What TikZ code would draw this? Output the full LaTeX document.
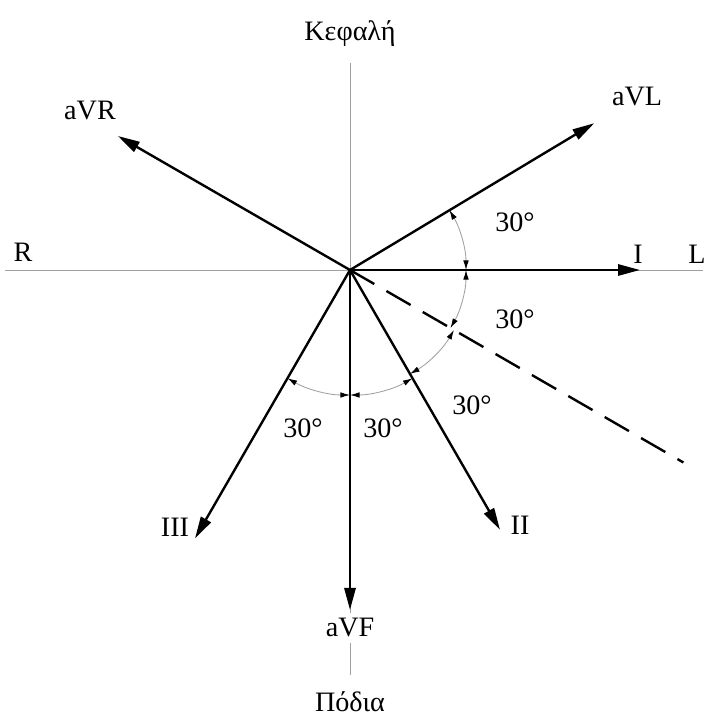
\documentclass[tikz,border=0pt]{standalone}
\usepackage{fontspec}
\setmainfont{Liberation Serif}
\usetikzlibrary{arrows.meta}
\definecolor{axisGray}{HTML}{A0A0A0}
\tikzset{
  axisline/.style={draw=axisGray, line width=0.6pt},
  vecarr/.style={-{Triangle[length=5.5mm, width=2.8mm]}, line width=1.7pt},
  dashline/.style={line width=1.7pt, dash pattern=on 7mm off 3.5mm},
  anglearc/.style={{Latex[length=2.4mm, width=1.4mm, color=black]}-{Latex[length=2.4mm, width=1.4mm, color=black]}, draw=axisGray, line width=0.6pt},
  lbl/.style={font=\fontsize{20}{23}\selectfont, inner sep=1pt},
}
\begin{document}
\begin{tikzpicture}[x=0.025cm, y=0.025cm]
\useasboundingbox (-350,-451) rectangle (361,270);
% axes
\coordinate (O) at (0,0);
\coordinate (axR) at (-345,0);
\coordinate (axL) at (353,0);
\coordinate (axT) at (0,207);
\coordinate (axB) at (0,-405);
\draw[axisline] (axR) -- (axL);
\draw[axisline] (axT) -- (axB);
% leads
\coordinate (tI) at (0:290);
\coordinate (tII) at (-60:300);
\coordinate (tIII) at (-120:310);
\coordinate (tVR) at (150:268);
\coordinate (tVL) at (31:285);
\coordinate (tVF) at (-90:340);
\coordinate (tDash) at (-30:385);
\draw[dashline] (O) -- (tDash);
\draw[vecarr] (O) -- (tI);
\draw[vecarr] (O) -- (tII);
\draw[vecarr] (O) -- (tIII);
\draw[vecarr] (O) -- (tVR);
\draw[vecarr] (O) -- (tVL);
\draw[vecarr] (O) -- (tVF);
% angles
\draw[anglearc] (0:116) arc[start angle=0, end angle=31, radius=116];
\draw[anglearc] (0:116) arc[start angle=0, end angle=-30, radius=116];
\draw[anglearc] (-30:120) arc[start angle=-30, end angle=-60, radius=120];
\draw[anglearc] (-90:125) arc[start angle=-90, end angle=-60, radius=125];
\draw[anglearc] (-90:125) arc[start angle=-90, end angle=-120, radius=125];
% labels
\node[lbl] (head) at (0,236) {Κεφαλή};
\node[lbl] (feet) at (0,-432) {Πόδια};
\node[lbl] (lR) at (-327,18) {R};
\node[lbl] (lL) at (347,16) {L};
\node[lbl] (lI) at (288,16) {I};
\node[lbl] (lII) at (170,-255) {II};
\node[lbl] (lIII) at (-175,-257) {III};
\node[lbl] (lVL) at (287,173) {aVL};
\node[lbl] (lVR) at (-260,159) {aVR};
\node[lbl, fill=white, inner ysep=4pt] (lVF) at (0,-358) {aVF};
\node[lbl] (a1) at (165,48) {30°};
\node[lbl] (a2) at (165,-49) {30°};
\node[lbl] (a3) at (122,-135) {30°};
\node[lbl] (a4) at (33,-158) {30°};
\node[lbl] (a5) at (-47,-158) {30°};
\end{tikzpicture}
\end{document}
